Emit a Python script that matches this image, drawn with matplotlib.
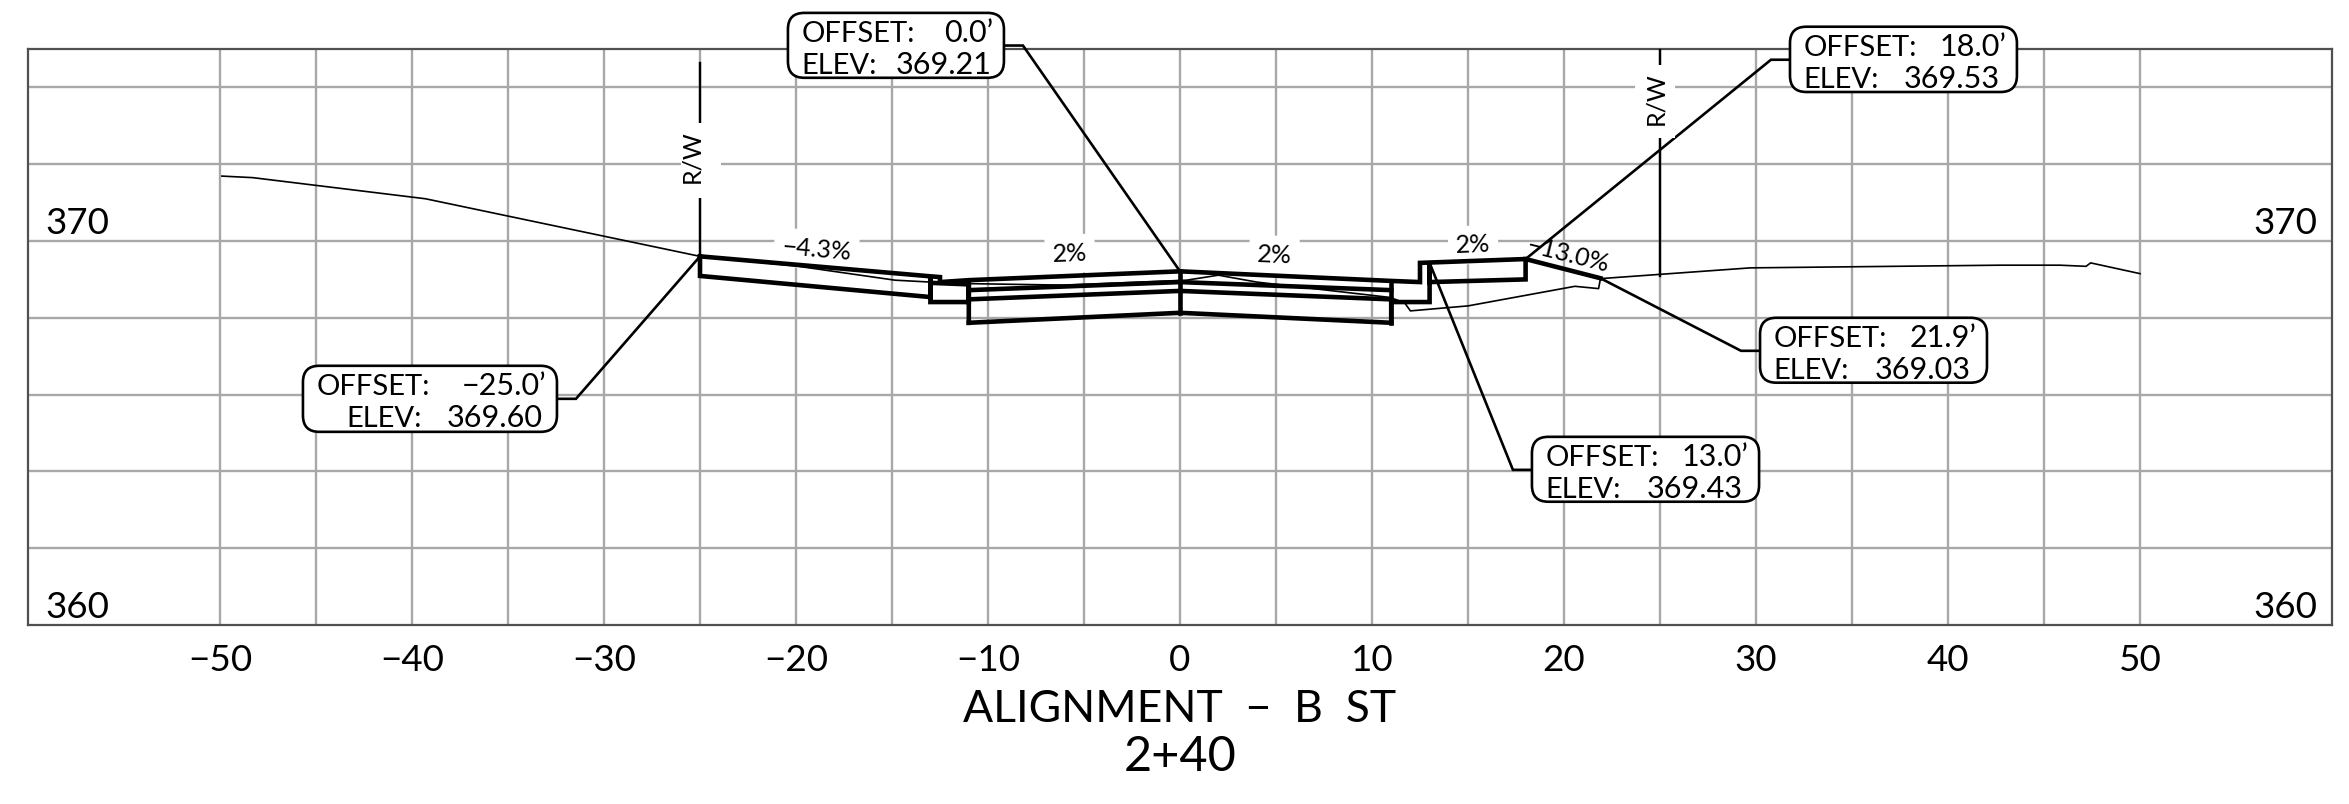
import matplotlib
matplotlib.use("Agg")
import matplotlib.pyplot as plt
from matplotlib.patches import FancyBboxPatch, Rectangle

plt.rcParams['font.family'] = ['Lato', 'DejaVu Sans']

# seccion transversal, offset (ft) / elevacion (ft)
top_x = [-25, -13, -12.5, -12.5, -11, 0, 11, 12.5, 12.5, 18, 21.9]
top_y = [369.60, 369.08, 369.06, 368.93, 368.98, 369.21, 368.96, 368.93, 369.43, 369.53, 369.03]
curb_l_x = [-25, -25, -13, -13, -13, -11, -11, -11]
curb_l_y = [369.60, 369.09, 368.54, 369.08, 368.41, 368.41, 368.98, 367.87]
curb_r_x = [11, 11, 13, 13, 13, 18, 18]
curb_r_y = [367.87, 368.41, 368.41, 369.43, 368.93, 369.00, 369.53]
base_x = [-11, 0, 11]
layer1_y = [368.72, 368.93, 368.72]
layer2_y = [368.48, 368.70, 368.48]
bottom_y = [367.87, 368.13, 367.87]
center_x = [0, 0]
center_y = [369.21, 368.13]
edge_x = [11, 11]
edge_y = [368.96, 367.87]
left_inner_x = [-13, -11]
left_inner_y = [368.91, 368.87]

# terreno existente
ground_x = [-49.9, -48.3, -39.3, -25, -20, -14.85, -13, -11, -6, 0.35, 2, 4, 10.94, 11.7, 12, 15,
            20.57, 21.8, 21.9, 29.7, 42.7, 45.83, 47.19, 47.43, 50]
ground_y = [371.69, 371.65, 371.10, 369.60, 369.35, 368.98, 368.93, 368.89, 368.85, 368.98, 369.11, 368.93, 368.53, 368.39, 368.18, 368.31,
            368.82, 368.76, 369.02, 369.30, 369.37, 369.37, 369.34, 369.43, 369.15]

# etiquetas offset / elev
offsets = ["\u221225.0\u2019", "0.0\u2019", "13.0\u2019", "18.0\u2019", "21.9\u2019"]
elevs = ["369.60", "369.21", "369.43", "369.53", "369.03"]
point_x = [-25, 0, 13, 18, 21.9]
point_y = [369.60, 369.21, 369.43, 369.53, 369.03]
box_left = [-45.68, -20.42, 18.33, 31.77, 30.21]
box_right = [-32.45, -9.17, 30.16, 43.59, 42.03]
box_top = [366.75, 375.94, 364.90, 375.58, 368.00]
box_bottom = [365.03, 374.25, 363.21, 373.88, 366.31]
knee_x = [-31.46, -8.18, 17.34, 30.78, 29.22]
knee_y = [365.89, 375.09, 364.04, 374.72, 367.14]
elev_inset = [0.73, 0.62, 0.88, 0.88, 0.83]

# pendientes
slope_labels = ["\u22124.3%", "2%", "2%", "2%", "\u221213.0%"]
slope_x = [-18.95, -5.73, 4.9, 15.27, 20.2]
slope_y = [369.77, 369.67, 369.64, 369.90, 369.65]
slope_rot = [-5, 2.3, -2.3, 2.3, -14]
slope_mask = [True, True, True, True, False]

xticks = list(range(-50, 51, 10))
xminor = list(range(-45, 50, 10))
yticks = list(range(362, 375, 2))

fig = plt.figure(figsize=(23.49, 8.0401), dpi=100)
ax = fig.add_axes([28 / 2349, 179 / 804, 2304 / 2349, 576 / 804])
ax.set_xlim(-60, 60)
ax.set_ylim(360, 375)
ax.set_xticks(xticks)
ax.set_xticklabels([str(t).replace('-', '\u2212') for t in xticks], fontsize=26.5)
ax.set_xticks(xminor, minor=True)
ax.set_yticks(yticks)
ax.set_yticklabels([])
ax.tick_params(which='both', length=0)
ax.tick_params(axis='x', pad=13.5)
ax.grid(True, which='both', color='#a8a8a8', lw=1.7)
ax.set_axisbelow(True)
for s in ax.spines.values():
    s.set_color('#505050')
    s.set_linewidth(1.6)

HEAVY = 3.3
for xs, ys in [(top_x, top_y), (curb_l_x, curb_l_y), (curb_r_x, curb_r_y), (base_x, layer1_y),
               (base_x, layer2_y), (base_x, bottom_y), (center_x, center_y), (edge_x, edge_y)]:
    ax.plot(xs, ys, color='black', lw=HEAVY, zorder=5, solid_joinstyle='miter')
ax.plot(left_inner_x, left_inner_y, color='black', lw=HEAVY, zorder=5)
ax.plot(ground_x, ground_y, color='black', lw=1.2, zorder=4)

# lineas R/W
ax.plot([-25, -25], [369.60, 371.12], color='black', lw=1.7, zorder=4)
ax.plot([-25, -25], [373.07, 374.64], color='black', lw=1.7, zorder=4)
ax.plot([25, 25], [369.10, 372.68], color='black', lw=1.7, zorder=4)
ax.plot([25, 25], [374.58, 375], color='black', lw=1.7, zorder=4)

# flechas a las etiquetas
for i in range(len(offsets)):
    end_x = box_left[i] if box_left[i] > point_x[i] else box_right[i]
    ax.plot([point_x[i], knee_x[i], end_x], [point_y[i], knee_y[i], knee_y[i]], color='black', lw=1.9,
            zorder=6, clip_on=False, solid_joinstyle='miter')

# mascara blanca de R/W, va sobre las lineas
ax.add_patch(Rectangle((-26.0, 371.12), 2.08, 1.95, fc='white', ec='none', zorder=7))
ax.add_patch(Rectangle((23.7, 372.68), 2.08, 1.9, fc='white', ec='none', zorder=7))
ax.text(-25.44, 372.21, "R/W", rotation=90, ha='center', va='center', fontsize=18, zorder=8)
ax.text(24.77, 373.70, "R/W", rotation=90, ha='center', va='center', fontsize=18, zorder=8)

for i in range(len(offsets)):
    w = box_right[i] - box_left[i]
    h = box_top[i] - box_bottom[i]
    r = 0.85
    ax.add_patch(FancyBboxPatch((box_left[i] + r, box_bottom[i] + r / 2), w - 2 * r, h - r,
                                boxstyle="round,pad=%f,rounding_size=%f" % (r, r), mutation_aspect=0.5,
                                fc='white', ec='black', lw=1.9, zorder=9, clip_on=False))
    x0 = box_left[i] + 0.7
    x1 = box_right[i] - 0.55
    yu = box_top[i] - 0.75
    yl = box_top[i] - 1.59
    elev_left = x0
    if i == 0:
        elev_left = box_left[i] + 2.25
    ax.text(x0, yu, "OFFSET:", ha='left', va='baseline', fontsize=21, zorder=10, clip_on=False)
    ax.text(x1, yu, offsets[i], ha='right', va='baseline', fontsize=22, zorder=10, clip_on=False)
    ax.text(elev_left, yl, "ELEV:", ha='left', va='baseline', fontsize=21, zorder=10, clip_on=False)
    ax.text(box_right[i] - elev_inset[i], yl, elevs[i], ha='right', va='baseline', fontsize=22, zorder=10, clip_on=False)

for i in range(len(slope_labels)):
    box = dict(fc='white', ec='none', pad=5.5) if slope_mask[i] else None
    ax.text(slope_x[i], slope_y[i], slope_labels[i], rotation=slope_rot[i], rotation_mode='anchor',
            ha='center', va='center', fontsize=18, zorder=3, bbox=box)

ax.text(-59.1, 370.18, "370", ha='left', va='baseline', fontsize=26.5, zorder=3)
ax.text(-59.1, 360.18, "360", ha='left', va='baseline', fontsize=26.5, zorder=3)
ax.text(59.25, 370.18, "370", ha='right', va='baseline', fontsize=26.5, zorder=3)
ax.text(59.25, 360.18, "360", ha='right', va='baseline', fontsize=26.5, zorder=3)

fig.text(1180 / 2349, (804 - 722) / 804, "ALIGNMENT  \u2212  B  ST", ha='center', va='baseline', fontsize=32)
fig.text(1180 / 2349, (804 - 770.7) / 804, "2+40", ha='center', va='baseline', fontsize=35)

fig.savefig("out.png", dpi=100)
